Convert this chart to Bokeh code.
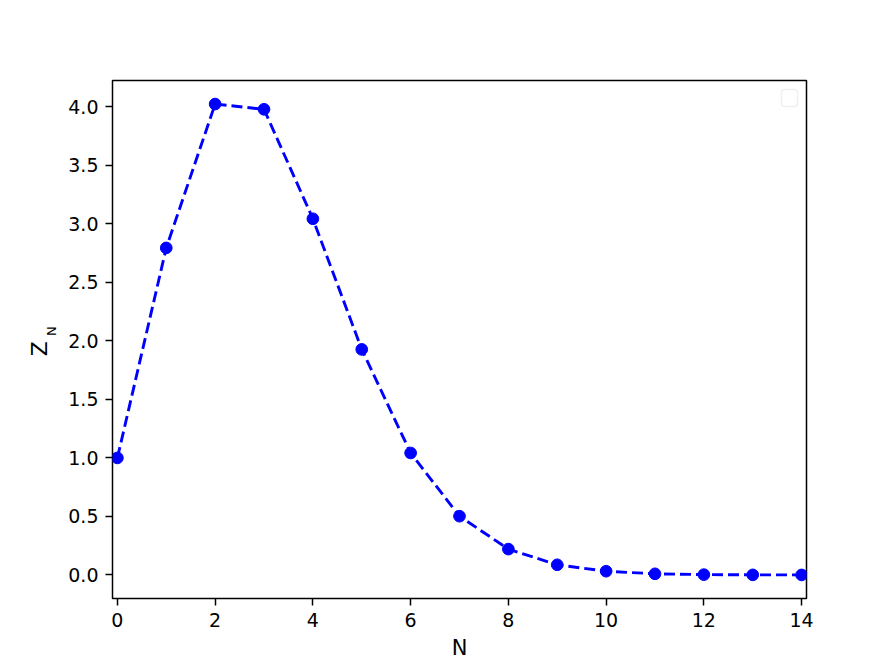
from bokeh.plotting import figure
from bokeh.models import (FixedTicker, PrintfTickFormatter, Range1d, BoxAnnotation,
                          LinearAxis)
from bokeh.embed import file_html
from bokeh.resources import INLINE

N = [0, 1, 2, 3, 4, 5, 6, 7, 8, 9, 10, 11, 12, 13, 14]
Z = [1.0, 2.794, 4.023, 3.978, 3.043, 1.927, 1.042, 0.502, 0.221, 0.087,
     0.032, 0.010, 0.003, 0.001, 0.0003]
x_ticks = [0, 2, 4, 6, 8, 10, 12, 14]
y_ticks = [0.0, 0.5, 1.0, 1.5, 2.0, 2.5, 3.0, 3.5, 4.0]

X0, X1 = -0.1, 14.1
Y0, Y1 = -0.201, 4.224
FRAME_W, FRAME_H = 694, 518

p = figure(width=896, height=672, output_backend="svg", toolbar_location=None,
           x_range=Range1d(X0, X1), y_range=Range1d(Y0, Y1),
           min_border_left=112, min_border_right=90, min_border_top=80, min_border_bottom=74)
p.background_fill_color = "white"
p.border_fill_color = "white"
p.outline_line_color = "black"
p.outline_line_width = 1.5
p.xgrid.visible = False
p.ygrid.visible = False

for ax in (p.xaxis[0], p.yaxis[0]):
    ax.axis_line_color = None
    ax.major_tick_out = 7
    ax.major_tick_in = 0
    ax.major_tick_line_width = 1.5
    ax.major_tick_line_color = "black"
    ax.minor_tick_line_color = None
    ax.major_label_text_font = "DejaVu Sans"
    ax.major_label_text_font_size = "19px"
    ax.major_label_text_color = "black"
    ax.major_label_standoff = 7
    ax.axis_label_text_font = "DejaVu Sans"
    ax.axis_label_text_font_size = "21px"
    ax.axis_label_text_font_style = "normal"
    ax.axis_label_text_color = "black"

p.xaxis.ticker = FixedTicker(ticks=x_ticks)
p.yaxis.ticker = FixedTicker(ticks=y_ticks)
p.xaxis.formatter = PrintfTickFormatter(format="%d")
p.yaxis.formatter = PrintfTickFormatter(format="%.1f")
p.xaxis.axis_label = "N"
p.xaxis.axis_label_standoff = 6

# y label Z_N: subscript "N" on the main axis, "Z" on an outer label-only axis
p.yaxis.axis_label = "\u00a0\u00a0\u00a0\u00a0N"
p.yaxis.axis_label_text_font_size = "13px"
p.yaxis.axis_label_standoff = 6

zax = LinearAxis(ticker=FixedTicker(ticks=[]), axis_label="Z\u00a0\u00a0\u2009",
                 axis_line_color=None, major_tick_line_color=None,
                 minor_tick_line_color=None, major_tick_out=0, major_tick_in=0,
                 major_label_text_font_size="0px", major_label_standoff=0,
                 axis_label_standoff=-10, axis_label_text_font="DejaVu Sans",
                 axis_label_text_font_size="22px", axis_label_text_font_style="normal",
                 axis_label_text_color="black")
p.add_layout(zax, "left")

p.line(N, Z, line_color="blue", line_width=2.9, line_dash="11 5")
p.scatter(N, Z, size=11.7, fill_color="blue", line_color="blue")

# empty legend frame in the upper right corner
ux = (X1 - X0) / FRAME_W
uy = (Y1 - Y0) / FRAME_H
p.add_layout(BoxAnnotation(left=X1 - 25 * ux, right=X1 - 9 * ux,
                           top=Y1 - 9 * uy, bottom=Y1 - 26 * uy,
                           fill_color="white", fill_alpha=0.8,
                           line_color="#cccccc", line_width=1.5, border_radius=3))

open("out.html", "w").write(file_html(p, INLINE))
